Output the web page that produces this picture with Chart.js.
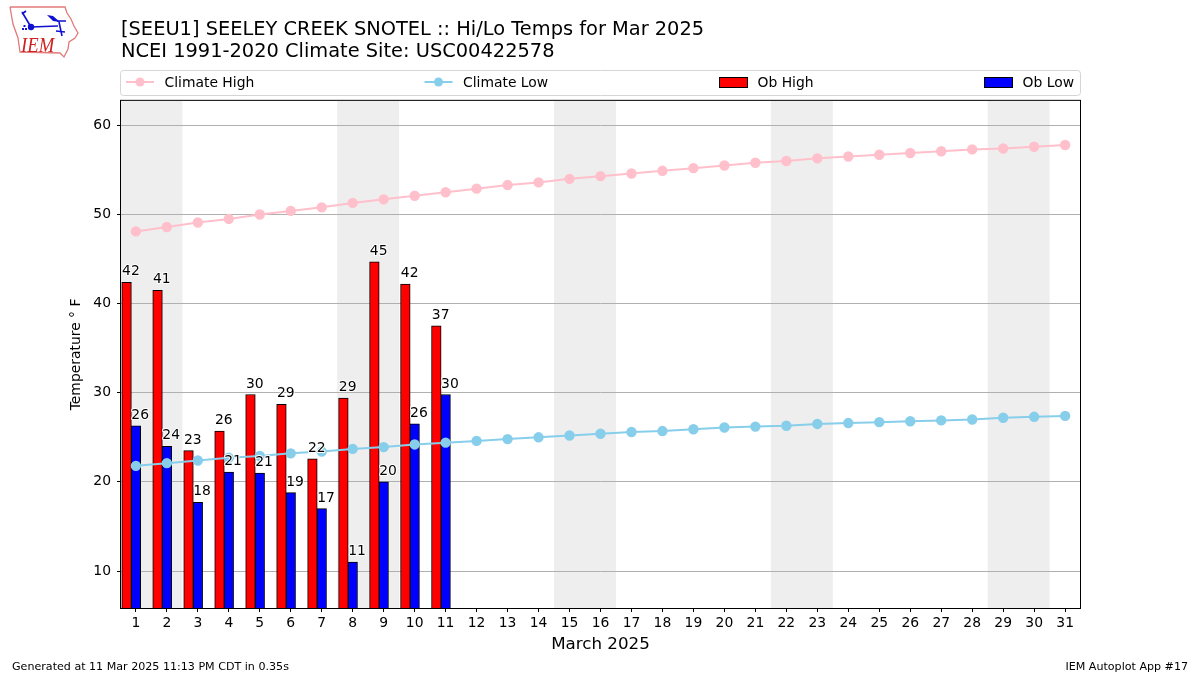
<!DOCTYPE html>
<html>
<head>
<meta charset="utf-8">
<script src="https://cdn.jsdelivr.net/npm/chart.js@4"></script>
<style>
body { margin: 0; background: #fff; }
</style>
</head>
<body>
<canvas id="chart" width="1200" height="675"></canvas>
<script>
const days = [1,2,3,4,5,6,7,8,9,10,11,12,13,14,15,16,17,18,19,20,21,22,23,24,25,26,27,28,29,30,31];
const climateHigh = [48.1,48.6,49.1,49.5,50.0,50.4,50.8,51.3,51.7,52.1,52.5,52.9,53.3,53.6,54.0,54.3,54.6,54.9,55.2,55.5,55.8,56.0,56.3,56.5,56.7,56.9,57.1,57.3,57.4,57.6,57.8];
const climateLow = [21.8,22.1,22.4,22.7,22.9,23.2,23.4,23.7,23.9,24.2,24.4,24.6,24.8,25.0,25.2,25.4,25.6,25.7,25.9,26.1,26.2,26.3,26.5,26.6,26.7,26.8,26.9,27.0,27.2,27.3,27.4];
const obDays = [1,2,3,4,5,6,7,8,9,10,11];
const obHigh = [42.4,41.5,23.5,25.7,29.8,28.7,22.6,29.4,44.7,42.2,37.5];
const obLow = [26.3,24.0,17.7,21.1,21.0,18.8,17.0,11.0,20.0,26.5,29.8];
const obHighLabels = ['42','41','23','26','30','29','22','29','45','42','37'];
const obLowLabels = ['26','24','18','21','21','19','17','11','20','26','30'];
const weekendStarts = [1,8,15,22,29];
const yTicks = [10,20,30,40,50,60];

const FONT = '"DejaVu Sans"';

// shaded weekends go under the grid
const bandsPlugin = {
    id: 'bands',
    beforeDraw(chart) {
        const { ctx, chartArea, scales } = chart;
        ctx.save();
        ctx.fillStyle = '#eeeeee';
        weekendStarts.forEach(day => {
            const left = Math.max(scales.x.getPixelForValue(day - 0.5), chartArea.left);
            const right = scales.x.getPixelForValue(day + 1.5);
            ctx.fillRect(left, chartArea.top, right - left, chartArea.bottom - chartArea.top);
        });
        ctx.restore();
    }
};

// value labels with a white halo, plus the axes frame
const labelsPlugin = {
    id: 'barLabels',
    afterDatasetsDraw(chart) {
        const { ctx, chartArea } = chart;
        ctx.save();
        ctx.strokeStyle = '#000';
        ctx.lineWidth = 1;
        ctx.strokeRect(chartArea.left - 0.5, chartArea.top - 0.5, chartArea.right - chartArea.left + 1, chartArea.bottom - chartArea.top + 1);
        ctx.font = '13.9px ' + FONT;
        ctx.textAlign = 'center';
        ctx.textBaseline = 'alphabetic';
        ctx.lineJoin = 'round';
        [[2, obHighLabels], [3, obLowLabels]].forEach(([index, labels]) => {
            chart.getDatasetMeta(index).data.forEach((bar, i) => {
                const x = bar.x + 4.3;
                const y = bar.y - 7;
                ctx.lineWidth = 2;
                ctx.strokeStyle = '#fff';
                ctx.strokeText(labels[i], x, y);
                ctx.fillStyle = '#000';
                ctx.fillText(labels[i], x, y);
            });
        });
        ctx.restore();
    }
};

// legend box spread over the axes width, footer text and the logo
const legendSlots = [126, 424.5, 719, 984];
const pageArtPlugin = {
    id: 'pageArt',
    afterDraw(chart) {
        const { ctx } = chart;
        ctx.save();
        ctx.strokeStyle = '#d5d5d5';
        ctx.lineWidth = 1;
        ctx.fillStyle = '#fff';
        ctx.beginPath();
        ctx.roundRect(120.5, 70.5, 960, 25, 3);
        ctx.fill();
        ctx.stroke();
        ctx.font = '13.9px ' + FONT;
        ctx.textAlign = 'left';
        ctx.textBaseline = 'alphabetic';
        chart.data.datasets.forEach((ds, i) => {
            const x = legendSlots[i];
            const y = 82;
            if (ds.type === 'line') {
                ctx.strokeStyle = ds.borderColor;
                ctx.lineWidth = 2;
                ctx.beginPath();
                ctx.moveTo(x, y);
                ctx.lineTo(x + 28, y);
                ctx.stroke();
                ctx.fillStyle = ds.pointBackgroundColor;
                ctx.beginPath();
                ctx.arc(x + 14, y, 4.5, 0, Math.PI * 2);
                ctx.fill();
            } else {
                ctx.fillStyle = ds.backgroundColor;
                ctx.strokeStyle = '#000';
                ctx.lineWidth = 1;
                ctx.fillRect(x, y - 5, 28, 10);
                ctx.strokeRect(x + 0.5, y - 4.5, 28, 10);
            }
            ctx.fillStyle = '#000';
            ctx.fillText(ds.label, x + 38.5, y + 4.5);
        });

        ctx.font = '11.1px ' + FONT;
        ctx.fillStyle = '#000';
        ctx.fillText('Generated at 11 Mar 2025 11:13 PM CDT in 0.35s', 12, 670);
        ctx.textAlign = 'right';
        ctx.fillText('IEM Autoplot App #17', 1188, 670);

        drawLogo(ctx);
        ctx.restore();
    }
};

function drawLogo(ctx) {
    ctx.strokeStyle = '#e27a7a';
    ctx.lineWidth = 1.3;
    ctx.beginPath();
    [[10,7],[65,7],[67,13],[71,19],[74,26],[78,33],[75,38],[69,42],[68,49],[64,57],[60,53],[20,52],[18,38],[13,24],[10,7]].forEach((p, i) => {
        if (i === 0) ctx.moveTo(p[0], p[1]); else ctx.lineTo(p[0], p[1]);
    });
    ctx.stroke();

    ctx.strokeStyle = '#1010d0';
    ctx.fillStyle = '#1010d0';
    ctx.lineWidth = 1.6;
    ctx.beginPath();
    ctx.moveTo(31, 27); ctx.lineTo(58, 26);
    ctx.moveTo(31, 27); ctx.lineTo(25, 17);
    ctx.moveTo(25, 17); ctx.lineTo(22, 12);
    ctx.moveTo(22, 14); ctx.lineTo(26, 11);
    ctx.moveTo(57, 21); ctx.lineTo(66, 21);
    ctx.moveTo(59, 22); ctx.lineTo(62, 36);
    ctx.moveTo(56, 31); ctx.lineTo(65, 32);
    ctx.stroke();
    ctx.beginPath();
    ctx.arc(31, 27, 3.2, 0, Math.PI * 2);
    ctx.fill();
    ctx.beginPath();
    ctx.moveTo(47, 15); ctx.lineTo(53, 16); ctx.lineTo(60, 22); ctx.lineTo(53, 21);
    ctx.closePath();
    ctx.fill();
    [[23,29],[26,29],[24.5,26]].forEach(p => ctx.fillRect(p[0] - 1, p[1] - 1, 2, 2));

    ctx.save();
    ctx.translate(21, 52);
    ctx.scale(0.85, 1);
    ctx.font = 'italic 22px "Liberation Serif"';
    ctx.fillStyle = '#d02020';
    ctx.textAlign = 'left';
    ctx.fillText('IEM', 0, 0);
    ctx.restore();
}

new Chart(document.getElementById('chart'), {
    type: 'bar',
    data: {
        datasets: [
            {
                type: 'line',
                label: 'Climate High',
                data: days.map((d, i) => ({ x: d, y: climateHigh[i] })),
                borderColor: '#ffc0cb',
                backgroundColor: '#ffc0cb',
                pointBackgroundColor: '#ffc0cb',
                pointBorderColor: '#ffc0cb',
                borderWidth: 2,
                pointRadius: 4.2,
                tension: 0,
                order: 1
            },
            {
                type: 'line',
                label: 'Climate Low',
                data: days.map((d, i) => ({ x: d, y: climateLow[i] })),
                borderColor: '#87ceeb',
                backgroundColor: '#87ceeb',
                pointBackgroundColor: '#87ceeb',
                pointBorderColor: '#87ceeb',
                borderWidth: 2,
                pointRadius: 4.2,
                tension: 0,
                order: 1
            },
            {
                label: 'Ob High',
                data: obDays.map((d, i) => ({ x: d - 0.3, y: obHigh[i] })),
                backgroundColor: '#ff0000',
                borderColor: '#000',
                borderWidth: 1,
                borderSkipped: false,
                barThickness: 9.6,
                grouped: false,
                order: 2
            },
            {
                label: 'Ob Low',
                data: obDays.map((d, i) => ({ x: d, y: obLow[i] })),
                backgroundColor: '#0000ff',
                borderColor: '#000',
                borderWidth: 1,
                borderSkipped: false,
                barThickness: 9.6,
                grouped: false,
                order: 2
            }
        ]
    },
    options: {
        responsive: false,
        animation: false,
        layout: { padding: { left: 0, right: 120, top: 0, bottom: 0 } },
        plugins: {
            legend: { display: false },
            tooltip: { enabled: false },
            title: {
                display: true,
                fullSize: false,
                align: 'start',
                text: ['[SEEU1] SEELEY CREEK SNOTEL :: Hi/Lo Temps for Mar 2025', 'NCEI 1991-2020 Climate Site: USC00422578'],
                color: '#000',
                font: { family: FONT, size: 19.4, weight: 'normal', lineHeight: 1.13 },
                padding: { top: 19, bottom: 38 }
            }
        },
        scales: {
            x: {
                type: 'linear',
                offset: false,
                bounds: 'data',
                min: 0.52,
                max: 31.48,
                afterFit(scale) { scale.height = 67; },
                afterBuildTicks(scale) { scale.ticks = days.map(value => ({ value })); },
                border: { display: false },
                grid: { offset: false, color: 'rgba(0,0,0,0)', tickColor: '#000', tickLength: 4, drawOnChartArea: false },
                ticks: {
                    autoSkip: false,
                    maxRotation: 0,
                    color: '#000',
                    padding: 3,
                    font: { family: FONT, size: 13.9 }
                },
                title: {
                    display: true,
                    text: 'March 2025',
                    color: '#000',
                    padding: { top: 2, bottom: 20 },
                    font: { family: FONT, size: 16.7 }
                }
            },
            y: {
                type: 'linear',
                bounds: 'data',
                min: 5.85,
                max: 62.75,
                afterFit(scale) { scale.width = 121; },
                afterBuildTicks(scale) { scale.ticks = yTicks.map(value => ({ value })); },
                border: { display: false },
                grid: { color: '#b0b0b0', tickColor: '#000', tickLength: 4, lineWidth: 1 },
                ticks: {
                    color: '#000',
                    padding: 6,
                    font: { family: FONT, size: 13.9 }
                },
                title: {
                    display: true,
                    text: 'Temperature ° F',
                    color: '#000',
                    padding: { top: 68, bottom: 28 },
                    font: { family: FONT, size: 13.9 }
                }
            }
        }
    },
    plugins: [bandsPlugin, labelsPlugin, pageArtPlugin]
});
</script>
</body>
</html>
